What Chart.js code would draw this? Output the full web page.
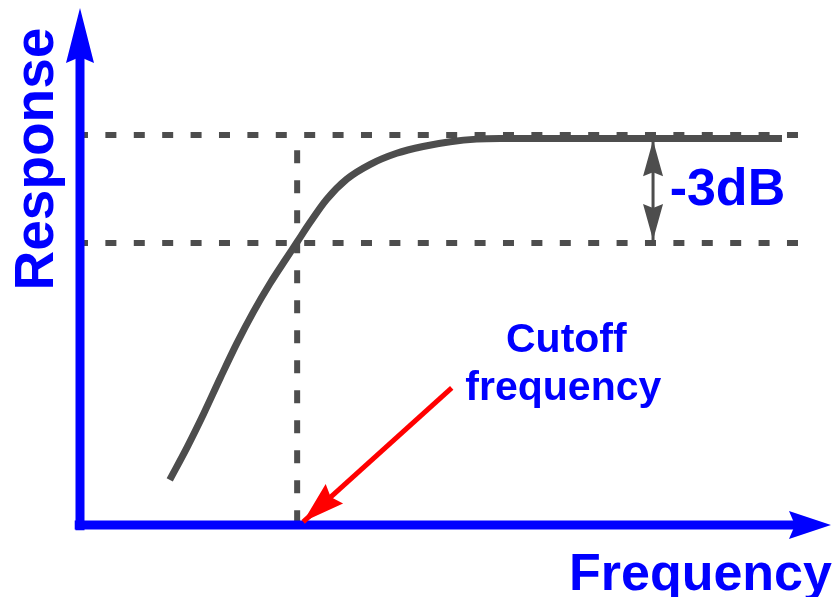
<!DOCTYPE html>
<html>
<head>
<meta charset="utf-8">
<script src="https://cdn.jsdelivr.net/npm/chart.js@4.4.0/dist/chart.umd.min.js"></script>
<style>
  body { margin: 0; background: #fff; }
  canvas { display: block; }
</style>
</head>
<body>
<canvas id="chart" width="834" height="597"></canvas>
<script>
// High-pass response curve, arbitrary units (axes run 0..100)
const freq     = [11.9, 14.2, 16.4, 18.6, 20.8, 23.0, 25.2, 27.0, 28.8, 30.5, 32.7, 35.4, 38.5, 42.0, 45.5, 49.1, 52.6, 55.7, 93.1];
const response = [8.6, 14.8, 21.2, 28.0, 34.6, 40.6, 46.0, 50.0, 53.9, 57.6, 62.0, 65.9, 68.7, 70.8, 72.1, 73.0, 73.5, 73.6, 73.6];

const passLevel  = 74.3;   // flat passband guide
const cutLevel   = 53.7;   // -3dB guide
const cutoffFreq = 28.8;
const cutoffTop  = 71.4;
const guideEnd   = [95.5, 96.0];
const dbMarkFreq = 76.0;
const dbMarkSpan = [73.3, 54.3];
const pointer    = [[49.3, 26.1], [29.6, 0.6]];
const axisTips   = [99.6, 98.5];

const GRAY = '#4d4d4d';
const BLUE = '#0000ff';
const RED  = '#ff0000';
const FONT = '"Liberation Sans", Arial, sans-serif';

function seg(a, b) {
  return [{ x: a[0], y: a[1] }, { x: b[0], y: b[1] }];
}

function lineSet(data, color, width, order, dash) {
  return {
    data,
    borderColor: color,
    borderWidth: width,
    borderDash: dash || [],
    borderCapStyle: 'butt',
    pointRadius: 0,
    clip: false,
    order
  };
}

// filled arrow head with a small notch at the back
function head(ctx, tip, from, len, half, notch, color) {
  const dx = tip.x - from.x, dy = tip.y - from.y;
  const d = Math.hypot(dx, dy);
  const ux = dx / d, uy = dy / d;
  const bx = tip.x - ux * len, by = tip.y - uy * len;
  ctx.beginPath();
  ctx.moveTo(tip.x, tip.y);
  ctx.lineTo(bx - uy * half, by + ux * half);
  ctx.lineTo(tip.x - ux * (len - notch), tip.y - uy * (len - notch));
  ctx.lineTo(bx + uy * half, by - ux * half);
  ctx.closePath();
  ctx.fillStyle = color;
  ctx.fill();
}

const labels = [
  { text: 'Response',  x: -3.6, y: 69.7,  size: 55, align: 'center', rotate: true },
  { text: 'Frequency', x: 64.85, y: -12.4, size: 52, align: 'left' },
  { text: '-3dB',      x: 78.2, y: 60.95, size: 52, align: 'left' },
  { text: 'Cutoff',    x: 64.5, y: 32.95, size: 41, align: 'center' },
  { text: 'frequency', x: 64.1, y: 23.8,  size: 41, align: 'center' }
];

const decorPlugin = {
  id: 'decor',
  afterDatasetsDraw(chart) {
    const ctx = chart.ctx;
    const xs = chart.scales.x, ys = chart.scales.y;
    const P = (x, y) => ({ x: xs.getPixelForValue(x), y: ys.getPixelForValue(y) });

    // axis arrow heads
    head(ctx, P(0, axisTips[1]), P(0, 0), 55, 14, 6, BLUE);
    head(ctx, P(axisTips[0], 0), P(0, 0), 42, 14, 6, BLUE);

    // -3dB double arrow
    head(ctx, P(dbMarkFreq, dbMarkSpan[0]), P(dbMarkFreq, dbMarkSpan[1]), 36, 10, 4, GRAY);
    head(ctx, P(dbMarkFreq, dbMarkSpan[1]), P(dbMarkFreq, dbMarkSpan[0]), 36, 10, 4, GRAY);

    // cutoff pointer
    head(ctx, P(pointer[1][0], pointer[1][1]), P(pointer[0][0], pointer[0][1]), 42, 13, 5, RED);

    ctx.save();
    ctx.fillStyle = BLUE;
    ctx.textBaseline = 'alphabetic';
    labels.forEach(l => {
      const p = P(l.x, l.y);
      ctx.save();
      ctx.font = 'bold ' + l.size + 'px ' + FONT;
      ctx.textAlign = l.align;
      ctx.translate(p.x, p.y);
      if (l.rotate) ctx.rotate(-Math.PI / 2);
      ctx.fillText(l.text, 0, 0);
      ctx.restore();
    });
    ctx.restore();
  }
};

new Chart(document.getElementById('chart'), {
  type: 'line',
  data: {
    datasets: [
      Object.assign(lineSet(freq.map((f, i) => ({ x: f, y: response[i] })), GRAY, 7, 2), { cubicInterpolationMode: 'monotone' }),
      lineSet(seg([-0.4, passLevel], [guideEnd[0], passLevel]), GRAY, 6, 3, [11, 17.4]),
      lineSet(seg([-0.4, cutLevel], [guideEnd[1], cutLevel]), GRAY, 6, 3, [11, 17.4]),
      lineSet(seg([cutoffFreq, cutoffTop], [cutoffFreq, 0]), GRAY, 6, 3, [13, 17]),
      lineSet(seg([0, -1], [0, 90]), BLUE, 9, 1),
      lineSet(seg([-0.7, 0], [96, 0]), BLUE, 9, 1),
      lineSet(seg(pointer[0], pointer[1]), RED, 5, 0),
      lineSet(seg([dbMarkFreq, dbMarkSpan[0]], [dbMarkFreq, dbMarkSpan[1]]), GRAY, 3, 0)
    ]
  },
  options: {
    responsive: false,
    animation: false,
    devicePixelRatio: 1,
    layout: { padding: { left: 80, right: 0, top: 0, bottom: 72 } },
    scales: {
      x: { type: 'linear', min: 0, max: 100, display: false },
      y: { type: 'linear', min: 0, max: 100, display: false }
    },
    plugins: { legend: { display: false }, tooltip: { enabled: false } }
  },
  plugins: [decorPlugin]
});
</script>
</body>
</html>
